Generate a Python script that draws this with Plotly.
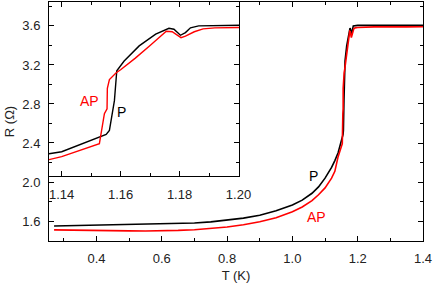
import plotly.graph_objects as go

# ---- main panel data ----
T_P = [0.27, 0.30, 0.35, 0.40, 0.45, 0.50, 0.55, 0.60, 0.65, 0.70, 0.75, 0.80, 0.85,
       0.90, 0.95, 1.00, 1.03, 1.06, 1.08, 1.10, 1.12, 1.13, 1.14, 1.1551, 1.1562,
       1.1579, 1.1587, 1.1612, 1.1663, 1.1719, 1.1764, 1.1781, 1.1803, 1.1820, 1.1837,
       1.1865, 1.20, 1.25, 1.30, 1.35, 1.40]
R_P = [1.550, 1.552, 1.553, 1.556, 1.558, 1.560, 1.563, 1.566, 1.572, 1.580, 1.592, 1.608, 1.630,
       1.660, 1.705, 1.765, 1.815, 1.885, 1.950, 2.040, 2.150, 2.220, 2.300, 2.487, 2.528,
       2.834, 3.140, 3.240, 3.395, 3.515, 3.576, 3.566, 3.504, 3.531, 3.580,
       3.600, 3.605, 3.606, 3.603, 3.604, 3.606]

T_AP = [0.27, 0.30, 0.35, 0.40, 0.45, 0.50, 0.55, 0.60, 0.65, 0.70, 0.75, 0.80, 0.85,
        0.90, 0.95, 1.00, 1.03, 1.06, 1.08, 1.10, 1.12, 1.13, 1.14, 1.1528, 1.1545,
        1.1554, 1.1555, 1.1562, 1.1585, 1.1600, 1.1650, 1.1700, 1.1755, 1.1775, 1.1805,
        1.1820, 1.1850, 1.1880, 1.1920, 1.20, 1.25, 1.30, 1.35, 1.40]
R_AP = [1.510, 1.508, 1.505, 1.504, 1.502, 1.500, 1.499, 1.500, 1.505, 1.512, 1.524, 1.540, 1.562,
        1.593, 1.635, 1.695, 1.745, 1.810, 1.870, 1.940, 2.040, 2.110, 2.260, 2.393, 2.700,
        2.750, 2.960, 3.050, 3.120, 3.150, 3.270, 3.400, 3.545, 3.540, 3.480,
        3.495, 3.540, 3.570, 3.580, 3.583, 3.590, 3.588, 3.590, 3.592]

# inset data (zoom of the transition)
T_P_in = [1.1357, 1.14, 1.1551, 1.1562, 1.1579, 1.1587, 1.1612, 1.1663, 1.1719, 1.1764,
          1.1781, 1.1803, 1.1820, 1.1837, 1.1865, 1.1930, 1.2005]
R_P_in = [2.290, 2.310, 2.487, 2.528, 2.834, 3.140, 3.240, 3.395, 3.515, 3.576,
          3.566, 3.504, 3.531, 3.580, 3.600, 3.603, 3.607]
T_AP_in = [1.1357, 1.14, 1.1528, 1.1545, 1.1554, 1.1555, 1.1562, 1.1585, 1.1600, 1.1650,
           1.1700, 1.1755, 1.1775, 1.1805, 1.1820, 1.1850, 1.1880, 1.1920, 1.2005]
R_AP_in = [2.229, 2.260, 2.393, 2.700, 2.750, 2.960, 3.050, 3.120, 3.150, 3.270,
           3.400, 3.545, 3.540, 3.480, 3.495, 3.540, 3.570, 3.580, 3.583]

x_range = [0.2545, 1.40]
y_range = [1.396, 3.845]
x2_range = [1.1357, 1.2003]
y2_range = [2.059, 3.845]
x_ticks = [0.4, 0.6, 0.8, 1.0, 1.2, 1.4]
y_ticks = [1.6, 2.0, 2.4, 2.8, 3.2, 3.6]
x2_ticks = [1.14, 1.16, 1.18, 1.20]

BLACK = "#000000"
RED = "#ff0000"
FONT = "Liberation Sans, Arial, sans-serif"

fig = go.Figure()
fig.add_trace(go.Scatter(x=T_P, y=R_P, mode="lines", line=dict(color=BLACK, width=1.6),
                         xaxis="x", yaxis="y", showlegend=False))
fig.add_trace(go.Scatter(x=T_AP, y=R_AP, mode="lines", line=dict(color=RED, width=1.6),
                         xaxis="x", yaxis="y", showlegend=False))
fig.add_trace(go.Scatter(x=T_P_in, y=R_P_in, mode="lines", line=dict(color=BLACK, width=1.4),
                         xaxis="x2", yaxis="y2", showlegend=False))
fig.add_trace(go.Scatter(x=T_AP_in, y=R_AP_in, mode="lines", line=dict(color=RED, width=1.4),
                         xaxis="x2", yaxis="y2", showlegend=False))

axis_common = dict(showline=True, linecolor="black", linewidth=1, mirror="ticks",
                   ticks="inside", ticklen=5, tickwidth=1, tickcolor="black",
                   showgrid=False, zeroline=False,
                   tickfont=dict(family=FONT, size=13, color="#222"))

fig.update_layout(
    width=436, height=283,
    margin=dict(l=49, r=9, t=1, b=42),
    paper_bgcolor="white", plot_bgcolor="white",
    font=dict(family=FONT, size=13, color="#222"),
    xaxis=dict(domain=[0, 1], range=x_range, tickvals=x_ticks, ticktext=[f"{v:.1f}" for v in x_ticks],
               title=dict(text="T (K)", standoff=6, font=dict(size=13)),
               minor=dict(dtick=0.1, tick0=0.3, ticklen=3, ticks="inside", tickcolor="black"),
               ticklabelstandoff=5, **axis_common),
    yaxis=dict(domain=[0, 1], range=y_range, tickvals=y_ticks, ticktext=[f"{v:.1f}" for v in y_ticks],
               title=dict(text="R (\u03a9)", standoff=4, font=dict(size=13)),
               minor=dict(dtick=0.2, tick0=1.4, ticklen=3, ticks="inside", tickcolor="black"),
               ticklabelstandoff=5, **axis_common),
    xaxis2=dict(domain=[0, 0.509], anchor="y2", range=x2_range, tickvals=x2_ticks,
                ticktext=[f"{v:.2f}" for v in x2_ticks],
                minor=dict(dtick=0.01, tick0=1.13, ticklen=3, ticks="inside", tickcolor="black"),
                ticklabelstandoff=6, **axis_common),
    yaxis2=dict(domain=[0.271, 1], anchor="x2", range=y2_range, tickvals=y_ticks,
                showticklabels=False,
                minor=dict(dtick=0.2, tick0=1.4, ticklen=3, ticks="inside", tickcolor="black"),
                **axis_common),
    shapes=[dict(type="rect", xref="x2", yref="y2", x0=x2_range[0], x1=x2_range[1],
                 y0=y2_range[0], y1=y2_range[1], fillcolor="white", line=dict(width=0),
                 layer="below")],
    annotations=[
        dict(x=1.0636, y=2.06, xref="x", yref="y", text="P", showarrow=False,
             font=dict(size=14, color=BLACK)),
        dict(x=1.074, y=1.644, xref="x", yref="y", text="AP", showarrow=False,
             font=dict(size=14, color=RED)),
        dict(x=1.1495, y=2.826, xref="x2", yref="y2", text="AP", showarrow=False,
             font=dict(size=14, color=RED)),
        dict(x=1.1604, y=2.715, xref="x2", yref="y2", text="P", showarrow=False,
             font=dict(size=14, color=BLACK)),
    ],
)

fig.write_html("out.html", config={"displayModeBar": False},
               post_script="document.body.style.margin='0';document.body.style.padding='0';")
